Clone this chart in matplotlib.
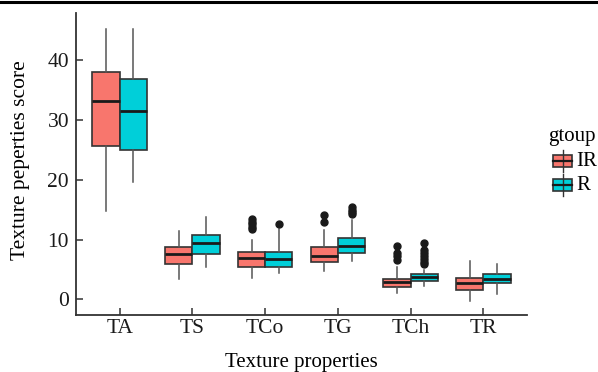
import numpy as np
import matplotlib.pyplot as plt
from matplotlib.lines import Line2D
from matplotlib.patches import Rectangle

plt.rcParams['font.family'] = ['Liberation Serif', 'DejaVu Serif']

categories = ['TA', 'TS', 'TCo', 'TG', 'TCh', 'TR']
groups = ['IR', 'R']
colors = ['#F8766D', '#00CFD9']

# five-number summaries per group: (whislo, q1, med, q3, whishi)
ir_stats = [(14.8, 25.6, 33.2, 38.0, 45.3),
            (3.5, 6.0, 7.6, 8.7, 11.4),
            (3.6, 5.4, 7.0, 7.9, 10.0),
            (4.8, 6.3, 7.3, 8.7, 11.6),
            (1.1, 2.1, 2.9, 3.5, 5.4),
            (-0.3, 1.6, 2.8, 3.6, 6.4)]
r_stats = [(19.7, 25.0, 31.5, 36.9, 45.2),
           (5.4, 7.6, 9.5, 10.7, 13.8),
           (4.4, 5.4, 6.8, 8.0, 11.8),
           (6.4, 7.8, 9.0, 10.2, 13.3),
           (2.3, 3.1, 3.7, 4.3, 5.0),
           (0.9, 2.7, 3.4, 4.3, 6.0)]
ir_fliers = [[], [], [11.8, 12.2, 12.6, 13.0, 13.5], [12.9, 14.2], [6.6, 7.2, 7.8, 8.9], []]
r_fliers = [[], [], [12.6], [14.3, 14.7, 15.0, 15.4], [5.9, 6.3, 6.8, 7.3, 7.8, 8.3, 9.5], []]

fig = plt.figure(figsize=(5.98, 3.72), dpi=100)
ax = fig.add_axes([0.1271, 0.1532, 0.7542, 0.8118])

edge = '#333333'
width = 0.375
for g, (stats, fliers, col) in enumerate(zip([ir_stats, r_stats], [ir_fliers, r_fliers], colors)):
    bx = []
    for s, f in zip(stats, fliers):
        lo, q1, med, q3, hi = s
        bx.append(dict(whislo=lo, q1=q1, med=med, q3=q3, whishi=hi, fliers=f))
    pos = np.arange(len(categories)) + (g - 0.5) * width
    ax.bxp(bx, positions=pos, widths=width, patch_artist=True, showcaps=False,
           boxprops=dict(facecolor=col, edgecolor=edge, linewidth=1.2),
           whiskerprops=dict(color='#555555', linewidth=1.1),
           medianprops=dict(color='#1a1a1a', linewidth=2.0),
           flierprops=dict(marker='o', markerfacecolor='#1a1a1a', markeredgecolor='#1a1a1a',
                           markersize=5))

ax.set_xlim(-0.6, len(categories) - 0.4)
ax.set_ylim(-2.6, 47.9)
ax.set_xticks(np.arange(len(categories)))
ax.set_xticklabels(categories)
ax.set_yticks([0, 10, 20, 30, 40])
ax.tick_params(direction='in', labelsize=15.5, length=5, width=1.1, color='#333333',
               labelcolor='#1a1a1a')
ax.tick_params(axis='x', pad=3)
ax.tick_params(axis='y', pad=5)
for side in ['top', 'right']:
    ax.spines[side].set_visible(False)
for side in ['left', 'bottom']:
    ax.spines[side].set_color('#333333')
    ax.spines[side].set_linewidth(1.3)

# axis titles placed in figure pixels
fig.text(21 / 598, 1 - 160 / 372, 'Texture peperties score', fontsize=15.5,
         rotation=90, ha='center', va='center')
fig.text(301 / 598, 1 - 367 / 372, 'Texture properties', fontsize=15,
         ha='center', va='baseline')

# legend drawn by hand in figure pixels
fig.text(548 / 598, 1 - 137 / 372, 'gtoup', fontsize=15, va='center', ha='left')
for i, (lab, col) in enumerate(zip(groups, colors)):
    yc = 161 + i * 24
    fig.add_artist(Line2D([563 / 598, 563 / 598], [1 - (yc - 11) / 372, 1 - (yc + 11) / 372],
                          color='#333333', linewidth=1.0))
    fig.add_artist(Rectangle((553 / 598, 1 - (yc + 6) / 372), 19 / 598, 12 / 372,
                             facecolor=col, edgecolor=edge, linewidth=1.2))
    fig.add_artist(Line2D([553 / 598, 572 / 598], [1 - yc / 372, 1 - yc / 372],
                          color='#1a1a1a', linewidth=1.6))
    fig.text(576 / 598, 1 - yc / 372, lab, fontsize=15, va='center', ha='left')

# heavy rule along the top edge
fig.add_artist(Line2D([0, 1], [1 - 2 / 372, 1 - 2 / 372], color='black', linewidth=2.2))

fig.savefig('out.png', dpi=100)
